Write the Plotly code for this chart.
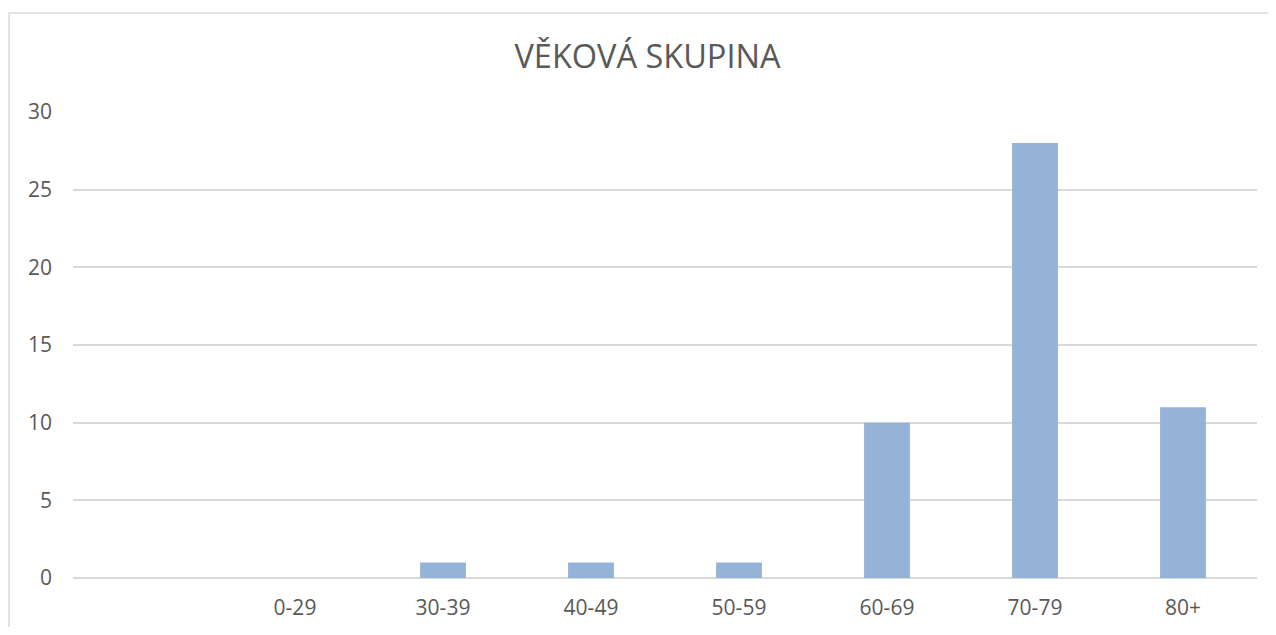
import plotly.graph_objects as go

categories = ["", "0-29", "30-39", "40-49", "50-59", "60-69", "70-79", "80+"]
counts = [None, 0, 1, 1, 1, 10, 28, 11]
y_ticks = [0, 5, 10, 15, 20, 25, 30]
title_text = "VĚKOVÁ SKUPINA"

# page body has an 8px margin; figure coordinates are offset accordingly
OFF = 8
W, H = 1268, 619
L, T = 73 - OFF, 112 - OFF
R = W - (1257 - OFF)
B = H - (578 - OFF)
pw, ph = W - L - R, H - T - B

def px_x(p):
    return (p - OFF - L) / pw

def px_y(p):
    return (H - B - (p - OFF)) / ph

idx = list(range(len(categories)))

fig = go.Figure(go.Bar(
    x=idx, y=counts,
    marker=dict(color="#95B3D7", line=dict(width=0)),
    width=0.31,
    hoverinfo="x+y",
))

fig.update_layout(
    width=W, height=H,
    margin=dict(l=L, r=R, t=T, b=B, autoexpand=False),
    paper_bgcolor="white", plot_bgcolor="white",
    font=dict(family="Open Sans", color="#595959", size=21),
    title=dict(text=title_text, xref="paper", x=px_x(647.5), xanchor="center",
               y=1 - (57 - OFF) / H, yanchor="middle",
               font=dict(size=32.5, color="#595959", family="Open Sans")),
    showlegend=False,
    xaxis=dict(
        tickmode="array", tickvals=idx, ticktext=categories,
        range=[-0.5, len(categories) - 0.5],
        showgrid=False, zeroline=False, showline=False, ticks="",
        ticklabelstandoff=15, automargin=False,
        tickfont=dict(size=21, color="#595959"),
    ),
    yaxis=dict(
        range=[0, 30], tickvals=y_ticks,
        showgrid=True, gridcolor="#D9D9D9", gridwidth=1.5,
        zeroline=True, zerolinecolor="#D9D9D9", zerolinewidth=1.5,
        showline=False, ticks="",
        ticklabelstandoff=20, automargin=False,
        tickfont=dict(size=21, color="#595959"),
    ),
    shapes=[dict(
        type="rect", xref="paper", yref="paper",
        x0=px_x(9), x1=px_x(1320), y0=px_y(13), y1=px_y(680),
        line=dict(color="#D9D9D9", width=1.5), fillcolor="rgba(0,0,0,0)", layer="below",
    )],
)

fig.write_html("out.html")
